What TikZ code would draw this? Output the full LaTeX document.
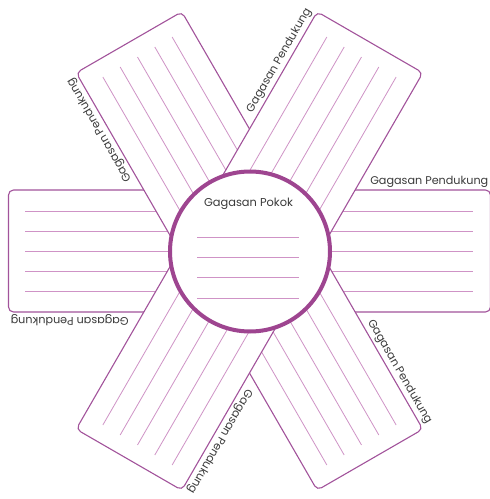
\documentclass[tikz,border=0pt]{standalone}
\usepackage{fontspec}
\setmainfont{Poppins}
\definecolor{edgeC}{HTML}{A2539B}
\definecolor{lineC}{HTML}{CF93C6}
\definecolor{ringC}{HTML}{9E4590}
\definecolor{txtC}{HTML}{3A3A3A}
\begin{document}
\begin{tikzpicture}[x=1pt,y=1pt,
  band/.style={draw=edgeC, line width=1.1pt, fill=white, rounded corners=5pt},
  rule/.style={draw=lineC, line width=0.8pt},
  lbl/.style={text=txtC, font=\fontsize{11.2}{13}\selectfont, inner sep=0pt, transform shape, anchor=south east},
  ring/.style={draw=ringC, line width=4pt, fill=white, circle, minimum size=160pt, inner sep=0pt}]
\useasboundingbox (-249.5,-248) rectangle (240.5,251);
% three bands: horizontal, 120 degrees, 60 degrees
\foreach \a/\nm in {0/bandA,120/bandB,60/bandC}{
  \begin{scope}[rotate=\a]
    \path[band] (-241,-61) rectangle (241,61);
    \foreach \o in {-40,-20,0,20,40}{
      \coordinate (\nm l\o) at (-224,\o);
      \coordinate (\nm r\o) at (224,\o);
      \draw[rule] (\nm l\o) -- (\nm r\o);
    }
  \end{scope}
}
% labels
\foreach \a in {0,60,...,300}{
  \begin{scope}[rotate=\a]
    \node[lbl] (lab\a) at (239,63.5) {Gagasan Pendukung};
  \end{scope}
}
% central circle
\node[ring] (main) at (0.5,-0.5) {};
\node[text=txtC, font=\fontsize{11.4}{13}\selectfont, inner sep=0pt] (title) at (-1,47) {Gagasan Pokok};
\foreach \y in {14,-6,-26,-47}{
  \coordinate (cl\y) at (-52,\y);
  \coordinate (cr\y) at (50,\y);
  \draw[rule] (cl\y) -- (cr\y);
}
\end{tikzpicture}
\end{document}
